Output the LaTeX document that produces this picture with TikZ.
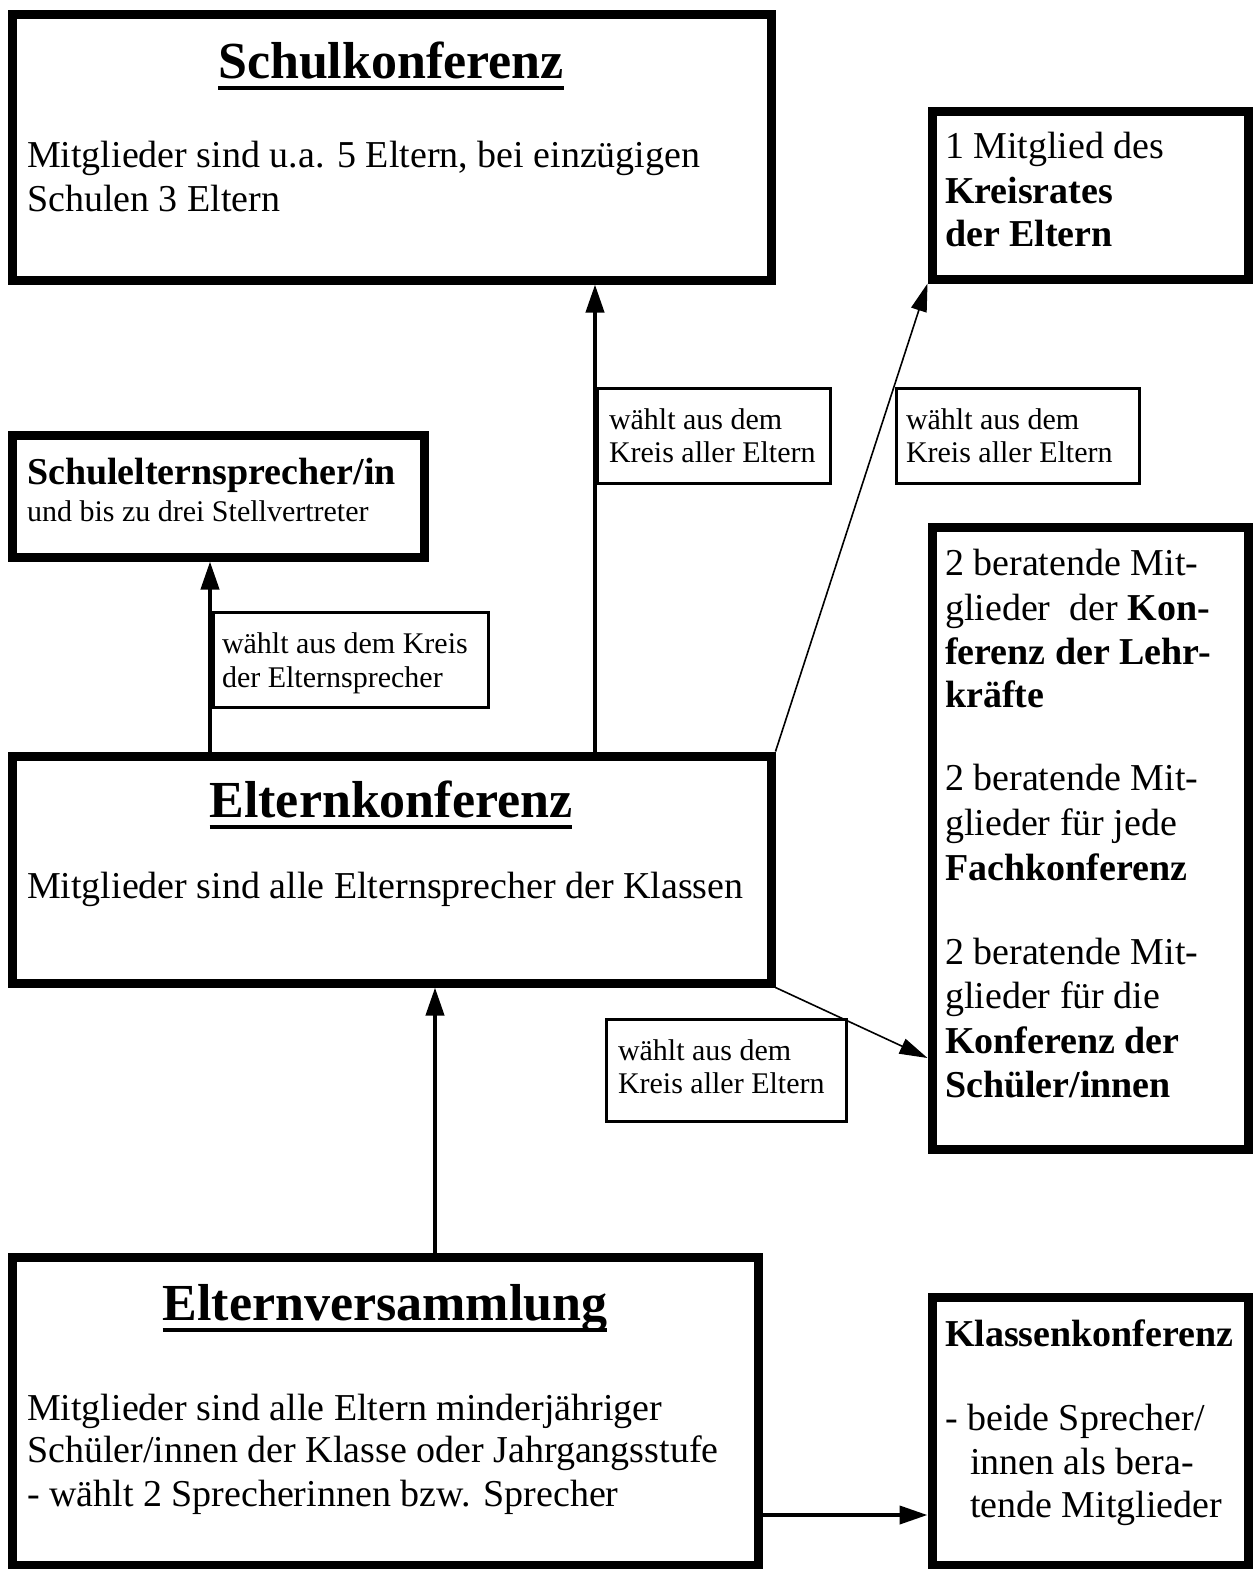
\documentclass[tikz,border=0pt]{standalone}
\usepackage{fontspec}
\setmainfont{Liberation Serif}
\usetikzlibrary{fit,arrows.meta}
\tikzset{
  bigbox/.style={draw, line width=4.5pt, inner sep=0pt},
  lblbox/.style={draw, line width=1.5pt, inner sep=0pt},
  txt/.style={anchor=base west, inner sep=0pt, outer sep=0pt},
  ttl/.style={anchor=base, inner sep=0pt, outer sep=0pt, font=\fontsize{26}{30}\selectfont\bfseries},
  bodyf/.style={txt, font=\fontsize{19}{22}\selectfont},
  boldf/.style={txt, font=\fontsize{19}{22}\selectfont\bfseries},
  smallf/.style={txt, font=\fontsize{15}{17}\selectfont},
  uline/.style={line width=2pt},
  thickarrow/.style={line width=2pt, -{Triangle[length=14pt,width=9pt]}},
  thinarrow/.style={line width=0.8pt, -{Triangle[length=14pt,width=8pt]}},
}
\begin{document}
\begin{tikzpicture}[x=0.5pt,y=-0.5pt]
\useasboundingbox (0,0) rectangle (1256,1569);
% big boxes
\node[bigbox, fit={(12,14) (771,280)}] (sk) {};
\node[bigbox, fit={(932,111) (1248,279)}] (kr) {};
\node[bigbox, fit={(12,435) (424,557)}] (ses) {};
\node[bigbox, fit={(12,756) (771,983)}] (ek) {};
\node[bigbox, fit={(932,527) (1248,1149)}] (rb) {};
\node[bigbox, fit={(12,1257) (758,1565)}] (ev) {};
\node[bigbox, fit={(932,1297) (1248,1565)}] (kk) {};
% label boxes
\node[lblbox, fit={(597.5,388.5) (830.5,483.5)}] (la) {};
\node[lblbox, fit={(896.5,388.5) (1139.5,483.5)}] (lb) {};
\node[lblbox, fit={(213.5,612.5) (488.5,707.5)}] (lc) {};
\node[lblbox, fit={(606.5,1019.5) (846.5,1121.5)}] (ld) {};
% Schulkonferenz
\node[ttl] (skt) at (391,78) {Schulkonferenz};
\draw[uline] ([yshift=-5pt]skt.base west) -- ([yshift=-5pt]skt.base east);
\node[bodyf] (sk1) at (27,167) {Mitglieder sind u.a. 5 Eltern, bei einzügigen};
\node[bodyf] (sk2) at (27,211) {Schulen 3 Eltern};
% Kreisrat
\node[bodyf] (kr1) at (945,158) {1 Mitglied des};
\node[boldf] (kr2) at (945,203) {Kreisrates};
\node[boldf] (kr3) at (945,246) {der Eltern};
% labels
\node[smallf] (la1) at (609,429) {wählt aus dem};
\node[smallf] (la2) at (609,462) {Kreis aller Eltern};
\node[smallf] (lb1) at (906,429) {wählt aus dem};
\node[smallf] (lb2) at (906,462) {Kreis aller Eltern};
\node[smallf] (lc1) at (222,653) {wählt aus dem Kreis};
\node[smallf] (lc2) at (222,687) {der Elternsprecher};
\node[smallf] (ld1) at (618,1060) {wählt aus dem};
\node[smallf] (ld2) at (618,1093) {Kreis aller Eltern};
% Schulelternsprecher
\node[boldf] (ses1) at (27,484) {Schulelternsprecher/in};
\node[smallf] (ses2) at (27,521) {und bis zu drei Stellvertreter};
% Elternkonferenz
\node[ttl] (ekt) at (391,817) {Elternkonferenz};
\draw[uline] ([yshift=-5pt]ekt.base west) -- ([yshift=-5pt]ekt.base east);
\node[bodyf] (ek1) at (27,898) {Mitglieder sind alle Elternsprecher der Klassen};
% right box
\node[bodyf] (rb1) at (945,575) {2 beratende Mit-};
\node[bodyf] (rb2) at (945,620) {glieder\ \ der \textbf{Kon-}};
\node[boldf] (rb3) at (945,664) {ferenz der Lehr-};
\node[boldf] (rb4) at (945,707) {kräfte};
\node[bodyf] (rb5) at (945,790) {2 beratende Mit-};
\node[bodyf] (rb6) at (945,835) {glieder für jede};
\node[boldf] (rb7) at (945,880) {Fachkonferenz};
\node[bodyf] (rb8) at (945,964) {2 beratende Mit-};
\node[bodyf] (rb9) at (945,1008) {glieder für die};
\node[boldf] (rb10) at (945,1053) {Konferenz der};
\node[boldf] (rb11) at (945,1097) {Schüler/innen};
% Elternversammlung
\node[ttl] (evt) at (385,1320) {Elternversammlung};
\draw[uline] ([yshift=-5pt]evt.base west) -- ([yshift=-5pt]evt.base east);
\node[bodyf] (ev1) at (27,1420) {Mitglieder sind alle Eltern minderjähriger};
\node[bodyf] (ev2) at (27,1462) {Schüler/innen der Klasse oder Jahrgangsstufe};
\node[bodyf] (ev3) at (27,1506) {- wählt 2 Sprecherinnen bzw. Sprecher};
% Klassenkonferenz
\node[boldf] (kk1) at (945,1346) {Klassenkonferenz};
\node[bodyf] (kk2) at (945,1430) {- beide Sprecher/};
\node[bodyf] (kk3) at (970,1474) {innen als bera-};
\node[bodyf] (kk4) at (970,1517) {tende Mitglieder};
% connectors
\coordinate (xa) at (595,0);
\coordinate (xb) at (210,0);
\coordinate (xc) at (435,0);
\coordinate (yd) at (0,1058);
\coordinate (ye) at (0,1515);
\draw[thickarrow] (ek.north -| xa) -- (sk.south -| xa);
\draw[thickarrow] (ek.north -| xb) -- (ses.south -| xb);
\draw[thickarrow] (ev.north -| xc) -- (ek.south -| xc);
\draw[thickarrow] (ev.east |- ye) -- (kk.west |- ye);
\draw[thinarrow] (ek.north east) -- (kr.south west);
\draw[thinarrow] (ek.south east) -- (rb.west |- yd);
\end{tikzpicture}
\end{document}
